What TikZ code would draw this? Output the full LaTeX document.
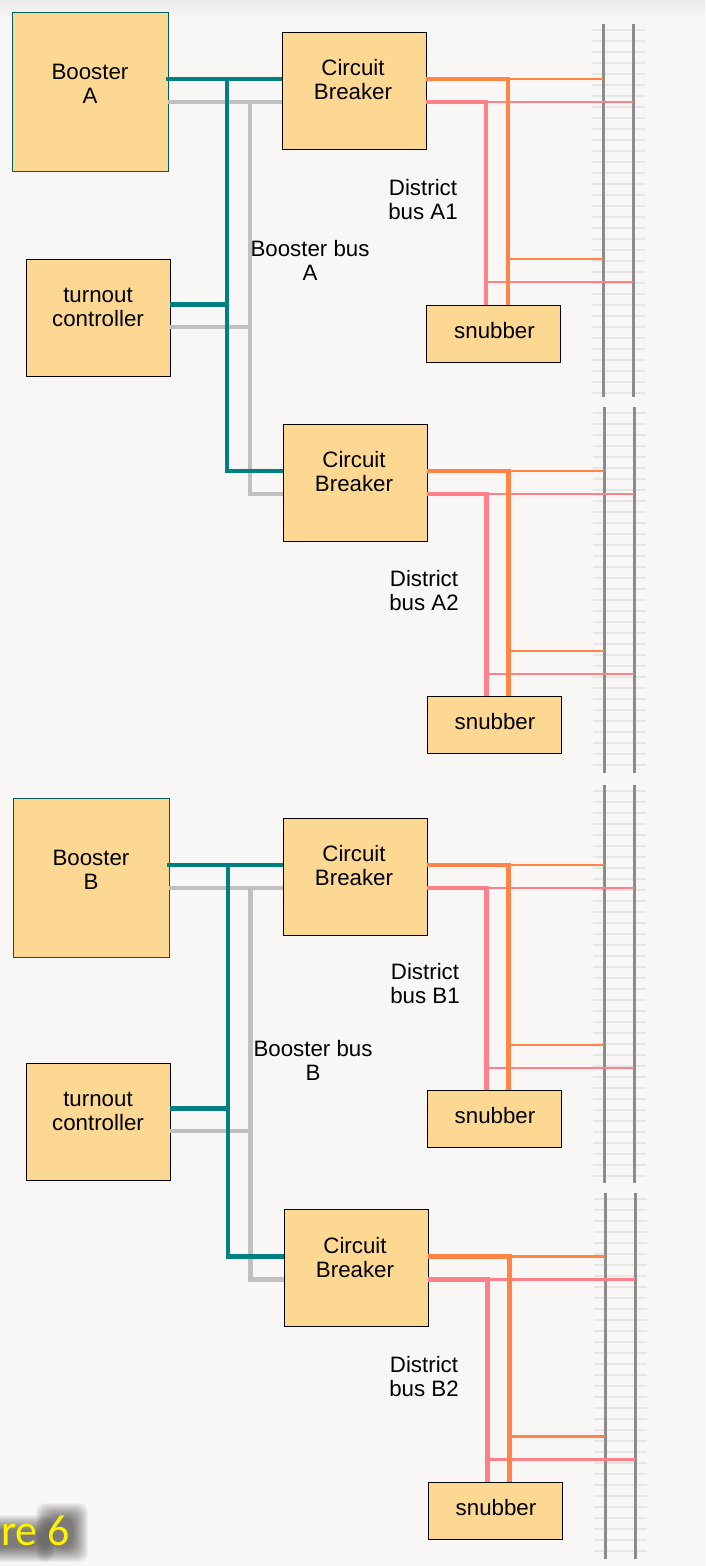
\documentclass[tikz,border=0pt]{standalone}
\usepackage{fontspec}
\setmainfont{Liberation Sans}
\newfontfamily\figfont{Carlito}
\usetikzlibrary{positioning,calc}
\definecolor{pagebg}{HTML}{F8F7F5}
\definecolor{pagetop}{HTML}{EBEBE9}
\definecolor{boxfill}{HTML}{FDD893}
\definecolor{tealwire}{HTML}{008080}
\definecolor{greywire}{HTML}{C0C0C0}
\definecolor{orangewire}{HTML}{FF8445}
\definecolor{pinkwire}{HTML}{FF8088}
\definecolor{railgrey}{HTML}{8C8C8C}
\definecolor{tiegrey}{HTML}{E6E6E4}

\begin{document}
\begin{tikzpicture}[
  x=1pt, y=-1pt,
  box/.style={draw=black, line width=0.8pt, fill=boxfill, inner sep=0pt},
  booster/.style={box, draw=tealwire!70!black, minimum width=156pt, minimum height=159pt},
  turnout/.style={box, minimum width=144pt, minimum height=117pt},
  breaker/.style={box, minimum width=144pt, minimum height=117pt},
  snubber/.style={box, minimum width=134pt, minimum height=57pt},
  lbl/.style={align=center, inner sep=0pt, font=\fontsize{22.3}{24}\selectfont},
  tealbus/.style={draw=tealwire, line width=4.4pt},
  greybus/.style={draw=greywire, line width=4.4pt},
  orangebus/.style={draw=orangewire, line width=4.6pt},
  pinkbus/.style={draw=pinkwire, line width=4.6pt},
  orangetap/.style={draw=orangewire, line width=2.6pt},
  pinktap/.style={draw=pinkwire, line width=2.6pt},
  rail/.style={draw=railgrey, line width=3pt},
  tie/.style={draw=tiegrey, line width=1.3pt},
]
  \useasboundingbox (0,0) rectangle (705,1566);
  \fill[pagebg] (0,0) rectangle (705,1566);
  \shade[top color=pagetop, bottom color=pagebg] (0,0) rectangle (705,18);

  % districts: name, breaker, snubber, label, rails
  \foreach \nm/\cx/\cy/\sx/\sy/\lx/\ly/\rx/\rt/\rb/\dtxt in {
    A1/354/90.5/493.5/333.5/423/200/603/24/397/{District\\bus A1},
    A2/355/482.5/494/725/424/591/604/407/773/{District\\bus A2},
    B1/355/876.5/494/1119/425/984/604/785/1183/{District\\bus B1},
    B2/356/1268/495/1510.5/424/1377/605/1193/1559/{District\\bus B2}} {
    \pgfmathsetmacro{\tfirst}{\rt+6}
    \pgfmathsetmacro{\tsecond}{\rt+17}
    \pgfmathsetmacro{\tlast}{\rb-4}
    \foreach \ty in {\tfirst,\tsecond,...,\tlast}
      \draw[tie] (\rx-11,\ty) -- (\rx+42,\ty);
    \coordinate (railL\nm) at (\rx,\rt);
    \coordinate (railR\nm) at (\rx+30,\rt);
    \draw[rail] (railL\nm) -- ++(0,\rb-\rt);
    \draw[rail] (railR\nm) -- ++(0,\rb-\rt);
    \node[breaker] (cb\nm) at (\cx,\cy) {};
    \node[lbl] (cbname\nm) at (\cx-1,\cy-10.5) {Circuit\\Breaker};
    \node[snubber] (snub\nm) at (\sx,\sy) {};
    \node[lbl] (snubname\nm) at (\sx+1,\sy-3) {snubber};
    \node[lbl] (bus\nm) at (\lx,\ly) {\dtxt};
    \coordinate (oin\nm) at ([yshift=11.5pt]cb\nm.east);
    \coordinate (pin\nm) at ([yshift=-11.5pt]cb\nm.east);
    \coordinate (oend\nm) at ([xshift=82pt]snub\nm.north west);
    \coordinate (pend\nm) at ([xshift=60pt]snub\nm.north west);
    \draw[orangetap] (oin\nm -| oend\nm) -- (oin\nm -| railL\nm);
    \draw[orangetap] ([yshift=-180pt]oin\nm -| oend\nm) -- ([yshift=-180pt]oin\nm -| railL\nm);
    \draw[pinktap] (pin\nm -| pend\nm) -- (pin\nm -| railR\nm);
    \draw[pinktap] ([yshift=-180pt]pin\nm -| pend\nm) -- ([yshift=-180pt]pin\nm -| railR\nm);
    \draw[pinkbus] (pin\nm) -| (pend\nm);
    \draw[orangebus] (oin\nm) -| (oend\nm);
  }

  % booster groups
  \foreach \g/\bx/\by/\ty/\tx/\gx/\lx/\ly/\btxt/\ltxt in {
    A/90/91.5/317.5/227/250/310/260/{Booster\\A}/{Booster bus\\A},
    B/91/877.5/1121.5/228/250.5/313/1060/{Booster\\B}/{Booster bus\\B}} {
    \node[booster] (boost\g) at (\bx,\by) {};
    \node[lbl] (boostname\g) at (\bx,\by-8) {\btxt};
    \node[turnout] (turn\g) at (98,\ty) {};
    \node[lbl] (turnname\g) at (98,\ty-10.5) {turnout\\controller};
    \node[lbl] (bbus\g) at (\lx,\ly) {\ltxt};
    \coordinate (tealx\g) at (\tx,0);
    \coordinate (greyx\g) at (\gx,0);
    \coordinate (tin1\g) at ([yshift=11.5pt]cb\g1.west);
    \coordinate (tin2\g) at ([yshift=11.5pt]cb\g2.west);
    \coordinate (gin1\g) at ([yshift=-11.5pt]cb\g1.west);
    \coordinate (gin2\g) at ([yshift=-11.5pt]cb\g2.west);
    \draw[greybus] (boost\g.east |- gin1\g) -- (gin1\g);
    \draw[greybus] (gin1\g -| greyx\g) -- (gin2\g -| greyx\g) -- (gin2\g);
    \draw[greybus] ([yshift=-9.5pt]turn\g.east) -| (greyx\g |- gin1\g);
    \draw[tealbus] ([xshift=-2pt]boost\g.east |- tin1\g) -- (tin1\g);
    \draw[tealbus] (tin1\g -| tealx\g) -- (tin2\g -| tealx\g) -- (tin2\g);
    \draw[tealbus] ([yshift=13pt]turn\g.east) -| (tealx\g |- tin1\g);
  }

  % figure tag, cut off by the page edge
  \foreach \s in {0,...,15} {
    \fill[black, opacity=0.04, rounded corners=9pt]
      (-20,1515+\s) rectangle (54-\s,1562-\s);
    \fill[black, opacity=0.04, rounded corners=9pt]
      (36+\s,1503+\s) rectangle (88-\s,1562-\s);
  }
  \node[anchor=base west, inner sep=0pt, text=yellow, font=\figfont\fontsize{44}{46}\selectfont] (figtag) at (1,1545) {re 6};
\end{tikzpicture}
\end{document}
